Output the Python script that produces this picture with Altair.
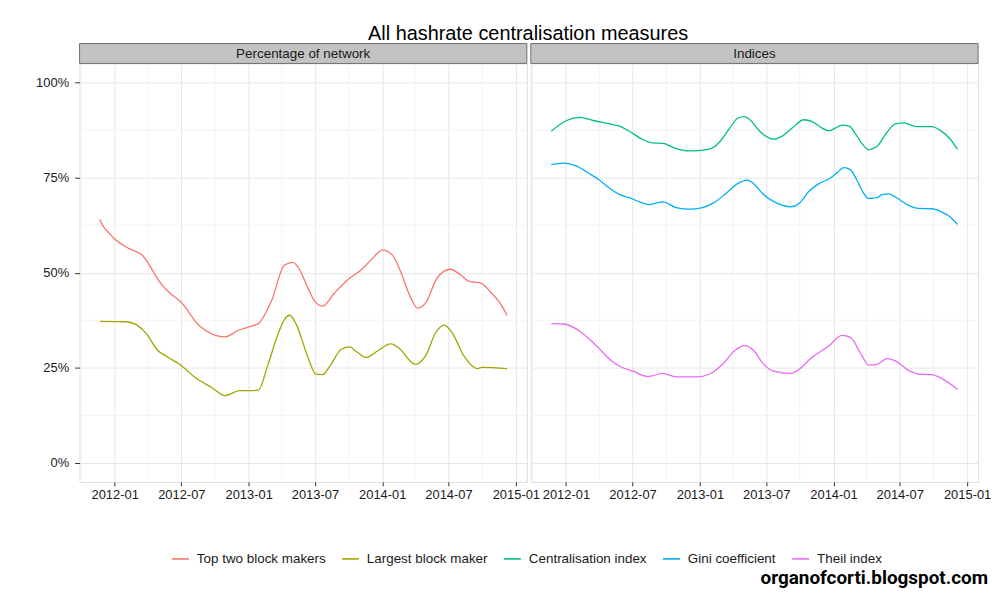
import altair as alt
import pandas as pd

# ---------------- data (values in %) ----------------
panel_names = ["Percentage of network", "Indices"]
series_names = ["Top two block makers", "Largest block maker", "Centralisation index",
                "Gini coefficient", "Theil index"]
series_panel = ["Percentage of network", "Percentage of network", "Indices", "Indices", "Indices"]
series_colors = ["#F8766D", "#A3A500", "#00BF7D", "#00B0F6", "#E76BF3"]

top_two_dates = ["2011-11-21", "2011-12-02", "2011-12-16", "2011-12-29", "2012-02-08", "2012-03-15",
                 "2012-05-09", "2012-06-05", "2012-06-28", "2012-08-21", "2012-10-28", "2012-12-03",
                 "2012-12-30", "2013-01-27", "2013-03-04", "2013-04-09", "2013-05-02", "2013-05-15",
                 "2013-06-12", "2013-06-30", "2013-07-22", "2013-08-23", "2013-09-28", "2013-11-04",
                 "2013-12-01", "2014-01-02", "2014-01-29", "2014-02-20", "2014-03-20", "2014-04-07",
                 "2014-04-29", "2014-05-31", "2014-07-06", "2014-08-03", "2014-08-26", "2014-09-26",
                 "2014-10-23", "2014-11-19", "2014-12-08"]
top_two_vals = [64.0, 62.0, 60.5, 59.1, 56.4, 54.7,
                46.8, 44.2, 42.5, 35.9, 33.1, 34.8,
                35.7, 36.6, 42.5, 52.0, 52.7, 51.6,
                46.0, 42.5, 41.2, 44.6, 48.1, 50.7,
                53.3, 55.9, 54.6, 50.3, 43.3, 40.7,
                42.0, 48.6, 50.9, 49.4, 47.7, 47.3,
                45.0, 42.0, 38.8]

largest_dates = ["2011-11-22", "2012-02-03", "2012-03-02", "2012-03-29", "2012-04-25", "2012-05-27",
                 "2012-06-28", "2012-08-07", "2012-09-22", "2012-10-28", "2012-12-08", "2013-01-08",
                 "2013-01-27", "2013-02-23", "2013-03-22", "2013-04-09", "2013-04-23", "2013-05-11",
                 "2013-06-12", "2013-07-04", "2013-07-22", "2013-08-14", "2013-09-10", "2013-10-03",
                 "2013-10-26", "2013-11-17", "2013-12-19", "2014-01-24", "2014-02-20", "2014-03-20",
                 "2014-04-02", "2014-04-29", "2014-05-27", "2014-06-19", "2014-07-11", "2014-08-12",
                 "2014-09-17", "2014-10-01", "2014-12-08"]
largest_vals = [37.2, 37.1, 36.2, 33.8, 29.8, 27.7,
                25.8, 22.5, 19.8, 17.7, 19.0, 19.0,
                19.1, 25.9, 33.8, 37.7, 38.8, 36.4,
                27.7, 23.3, 23.2, 25.9, 29.8, 30.5,
                29.0, 27.7, 29.4, 31.3, 29.8, 26.6,
                25.9, 28.1, 34.2, 36.2, 34.2, 28.1,
                24.8, 25.1, 24.8]

cent_dates = ["2011-11-22", "2012-01-03", "2012-02-08", "2012-03-15", "2012-04-30", "2012-05-27",
              "2012-06-23", "2012-07-29", "2012-08-25", "2012-09-22", "2012-10-28", "2012-12-03",
              "2013-01-27", "2013-02-23", "2013-03-22", "2013-04-14", "2013-05-02", "2013-05-20",
              "2013-06-12", "2013-06-30", "2013-07-22", "2013-08-14", "2013-09-10", "2013-10-12",
              "2013-11-04", "2013-12-01", "2013-12-19", "2014-01-06", "2014-01-24", "2014-02-13",
              "2014-03-02", "2014-03-20", "2014-04-07", "2014-04-30", "2014-05-27", "2014-06-19",
              "2014-07-11", "2014-08-16", "2014-09-26", "2014-10-23", "2014-11-15", "2014-12-06"]
cent_vals = [87.2, 90.0, 90.8, 90.0, 89.1, 88.5,
             87.1, 85.0, 84.1, 84.0, 82.6, 82.0,
             82.5, 84.3, 87.8, 90.6, 91.0, 90.0,
             87.3, 85.9, 85.1, 85.9, 88.0, 90.2,
             89.7, 88.0, 87.3, 88.0, 88.8, 88.5,
             86.5, 83.9, 82.3, 83.2, 86.9, 89.1,
             89.4, 88.4, 88.4, 87.2, 85.2, 82.4]

gini_dates = ["2011-11-22", "2011-12-25", "2012-01-30", "2012-03-06", "2012-04-02", "2012-04-30",
              "2012-05-27", "2012-06-23", "2012-07-20", "2012-08-16", "2012-09-22", "2012-10-28",
              "2012-12-03", "2013-01-08", "2013-02-05", "2013-03-13", "2013-04-14", "2013-05-11",
              "2013-06-03", "2013-06-21", "2013-07-27", "2013-09-06", "2013-09-29", "2013-10-26",
              "2013-11-22", "2013-12-24", "2014-01-11", "2014-01-29", "2014-02-16", "2014-03-06",
              "2014-03-20", "2014-04-07", "2014-04-30", "2014-05-13", "2014-05-31", "2014-06-19",
              "2014-07-25", "2014-08-21", "2014-09-26", "2014-10-23", "2014-11-15", "2014-12-06"]
gini_vals = [78.4, 78.8, 78.0, 76.0, 74.3, 72.1,
             70.5, 69.7, 68.6, 67.9, 68.6, 67.1,
             66.7, 67.1, 68.2, 70.8, 73.4, 74.3,
             72.8, 70.8, 68.4, 67.3, 68.2, 71.4,
             73.4, 74.9, 76.3, 77.6, 77.1, 74.3,
             71.6, 69.5, 69.7, 70.5, 70.7, 69.9,
             67.7, 66.9, 66.8, 66.0, 64.7, 62.7]

theil_dates = ["2011-11-22", "2011-12-25", "2012-02-08", "2012-03-25", "2012-04-30", "2012-05-27",
               "2012-07-02", "2012-08-12", "2012-09-22", "2012-10-28", "2012-12-22", "2013-01-27",
               "2013-03-04", "2013-04-05", "2013-05-05", "2013-05-29", "2013-06-21", "2013-07-22",
               "2013-09-06", "2013-09-29", "2013-11-04", "2013-12-19", "2014-01-24", "2014-02-16",
               "2014-03-20", "2014-04-07", "2014-04-30", "2014-05-27", "2014-06-19", "2014-07-25",
               "2014-08-25", "2014-09-26", "2014-10-23", "2014-12-06"]
theil_vals = [36.6, 36.5, 34.6, 30.7, 27.2, 25.4,
              24.1, 22.7, 23.5, 22.6, 22.6, 23.3,
              25.9, 29.4, 30.8, 29.4, 26.3, 24.1,
              23.5, 24.6, 27.8, 30.7, 33.5, 33.0,
              28.1, 25.7, 25.9, 27.4, 26.8, 24.3,
              23.3, 23.2, 22.2, 19.3]

major_x_ticks = ["2012-01", "2012-07", "2013-01", "2013-07", "2014-01", "2014-07", "2015-01"]
minor_x_ticks = ["2011-10", "2012-04", "2012-10", "2013-04", "2013-10", "2014-04", "2014-10"]
major_y_ticks = [0, 0.25, 0.5, 0.75, 1.0]
minor_y_ticks = [0.125, 0.375, 0.625, 0.875]
x_domain = ["2011-09-27", "2015-01-31"]
y_domain = [-0.05, 1.05]

title_text = "All hashrate centralisation measures"
watermark = "organofcorti.blogspot.com"

# ---------------- build table ----------------
all_dates = [top_two_dates, largest_dates, cent_dates, gini_dates, theil_dates]
all_vals = [top_two_vals, largest_vals, cent_vals, gini_vals, theil_vals]
rows = []
for name, panel, ds, vs in zip(series_names, series_panel, all_dates, all_vals):
    for d, v in zip(ds, vs):
        rows.append({"series": name, "panel": panel, "date": d + "T00:00:00Z", "value": v / 100.0})
df = pd.DataFrame(rows)


def dt(s):
    parts = s.split("-")
    return alt.DateTime(year=int(parts[0]), month=int(parts[1]),
                        date=int(parts[2]) if len(parts) > 2 else 1, utc=True)


W, H = 450, 421
FONT = "Liberation Sans"

xscale = alt.Scale(type="utc", domain=[dt(s) for s in x_domain], nice=False)
yscale = alt.Scale(domain=y_domain, nice=False, zero=False)
cscale = alt.Scale(domain=series_names, range=series_colors)

xaxis = alt.Axis(values=[dt(s) for s in major_x_ticks], labelExpr="utcFormat(datum.value, '%Y-%m')",
                 grid=True, gridColor="#e6e6e6", domain=False, tickColor="#333333", tickSize=4,
                 labelPadding=3, labelFontSize=13, labelColor="#1a1a1a", labelFont=FONT,
                 labelOverlap=False, title=None)


def yaxis(show):
    if show:
        return alt.Axis(values=major_y_ticks, format=".0%", grid=True, gridColor="#e6e6e6",
                        domain=False, tickColor="#333333", tickSize=5, labelPadding=6,
                        labelFontSize=13, labelColor="#1a1a1a", labelFont=FONT, title=None)
    return alt.Axis(values=major_y_ticks, grid=True, gridColor="#e6e6e6", domain=False,
                    ticks=False, labels=False, title=None, minExtent=0, maxExtent=0)


legend = alt.Legend(orient="none", direction="horizontal", title=None, symbolType="stroke",
                    symbolSize=289, symbolStrokeWidth=1.6, labelFontSize=13.5, labelFont=FONT,
                    labelColor="#1a1a1a", columnPadding=12, labelOffset=7, labelLimit=300,
                    legendX=92, legendY=489)


def panel_chart(pname, show_y, extra=None):
    sub = df[df["panel"] == pname]
    minor_x = alt.Chart(pd.DataFrame({"date": [s + "-01T00:00:00Z" for s in minor_x_ticks]})).mark_rule(
        color="#f3f3f3", strokeWidth=1).encode(
        x=alt.X("date:T", scale=xscale, axis=xaxis, title=None), y=alt.value(0), y2=alt.value(H))
    minor_y = alt.Chart(pd.DataFrame({"value": minor_y_ticks})).mark_rule(
        color="#f3f3f3", strokeWidth=1).encode(
        y=alt.Y("value:Q", scale=yscale, axis=yaxis(show_y), title=None), x=alt.value(0), x2=alt.value(W))
    lines = alt.Chart(sub).mark_line(strokeWidth=1.3, interpolate="monotone").encode(
        x=alt.X("date:T", scale=xscale, axis=xaxis, title=None),
        y=alt.Y("value:Q", scale=yscale, axis=yaxis(show_y), title=None),
        color=alt.Color("series:N", scale=cscale, legend=legend, sort=series_names),
        detail="series:N",
    )
    strip_df = pd.DataFrame({"panel": [pname]})
    strip = alt.Chart(strip_df).mark_rect(fill="#c3c3c3", stroke="#707070", strokeWidth=1).encode(
        x=alt.value(0), x2=alt.value(W), y=alt.value(-20), y2=alt.value(0))
    strip_text = alt.Chart(strip_df).mark_text(fontSize=13.5, font=FONT, color="#1a1a1a",
                                               baseline="middle").encode(
        x=alt.value(W / 2), y=alt.value(-9.5), text="panel:N")
    layers = [minor_x, minor_y, lines, strip, strip_text]
    if extra is not None:
        layers.append(extra)
    return alt.layer(*layers).properties(width=W, height=H)


wm = alt.Chart(pd.DataFrame({"t": [watermark]})).mark_text(
    font="Roboto", fontWeight="bold", fontSize=19, align="right",
    baseline="alphabetic", color="black").encode(x=alt.value(W + 10), y=alt.value(H + 103), text="t:N")

left = panel_chart(panel_names[0], True)
right = panel_chart(panel_names[1], False, wm)

chart = alt.hconcat(left, right, spacing=4, bounds="flush").properties(
    title=alt.TitleParams(title_text, fontSize=20, font=FONT, fontWeight="normal", color="black",
                          anchor="middle", offset=-1, dx=15),
    padding={"left": 27, "top": 14, "right": 0, "bottom": 0},
).configure_view(stroke="#8c8c8c", strokeWidth=1).configure(background="white")

chart.save("out.html", embed_options={"renderer": "svg", "actions": False})
